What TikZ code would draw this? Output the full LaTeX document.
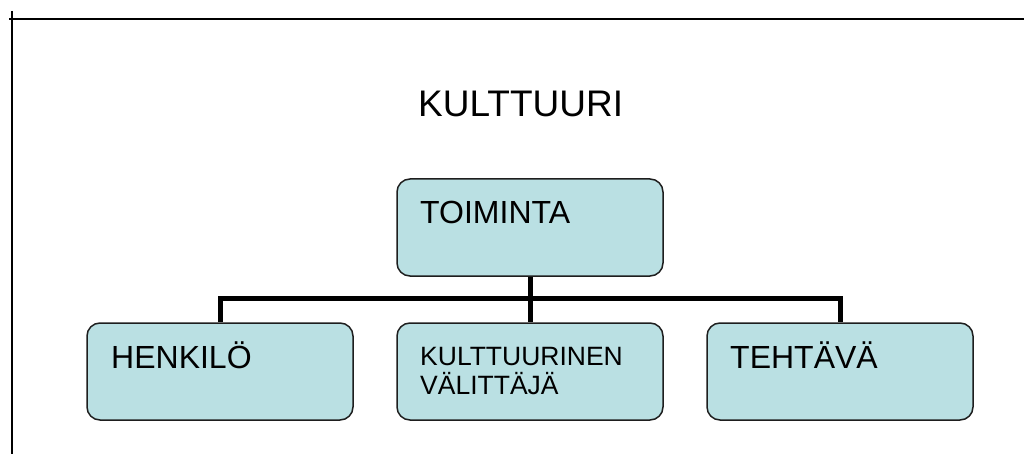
\documentclass[tikz,border=0pt]{standalone}
\usepackage{fontspec}
\setmainfont{Liberation Sans}
\definecolor{boxfill}{RGB}{186,224,227}
\definecolor{boxline}{RGB}{30,30,30}
\tikzset{
  orgbox/.style={draw=boxline, line width=1.5pt, fill=boxfill, rounded corners=13pt,
    minimum width=266pt, minimum height=97pt, inner sep=0pt},
  boxtext/.style={anchor=base west, inner sep=0pt, font=\fontsize{32}{36}\selectfont},
  conn/.style={line width=5pt, draw=black},
  frameline/.style={line width=2pt, draw=black}
}
\begin{document}
\begin{tikzpicture}[x=1pt,y=-1pt]
\useasboundingbox (0,0) rectangle (1024,454);
\coordinate (tl) at (9,19.5);
\coordinate (tr) at (1024,19.5);
\coordinate (vt) at (11.5,11);
\coordinate (vb) at (11.5,454);
\draw[frameline] (tl) -- (tr);
\draw[frameline] (vt) -- (vb);
\node[anchor=base west, inner sep=0pt, font=\fontsize{37}{41}\selectfont] (title) at (418,117) {KULTTUURI};
\node[orgbox] (toim) at (530,227.5) {};
\node[orgbox] (henk) at (220,371.5) {};
\node[orgbox] (mid) at (530,371.5) {};
\node[orgbox] (teht) at (840,371.5) {};
\node[boxtext] (toimt) at (420,224) {TOIMINTA};
\node[boxtext] (henkt) at (111,368) {HENKILÖ};
\node[boxtext] (tehtt) at (730,368) {TEHTÄVÄ};
\node[anchor=base west, inner sep=0pt, font=\fontsize{26.5}{29}\selectfont] (midt1) at (420,365) {KULTTUURINEN};
\node[anchor=base west, inner sep=0pt, font=\fontsize{26.5}{29}\selectfont] (midt2) at (420,394) {VÄLITTÄJÄ};
\coordinate (bar) at (530,298);
\draw[conn] (toim.south) -- (mid.north);
\draw[conn] (henk.north) |- (bar) -| (teht.north);
\end{tikzpicture}
\end{document}
